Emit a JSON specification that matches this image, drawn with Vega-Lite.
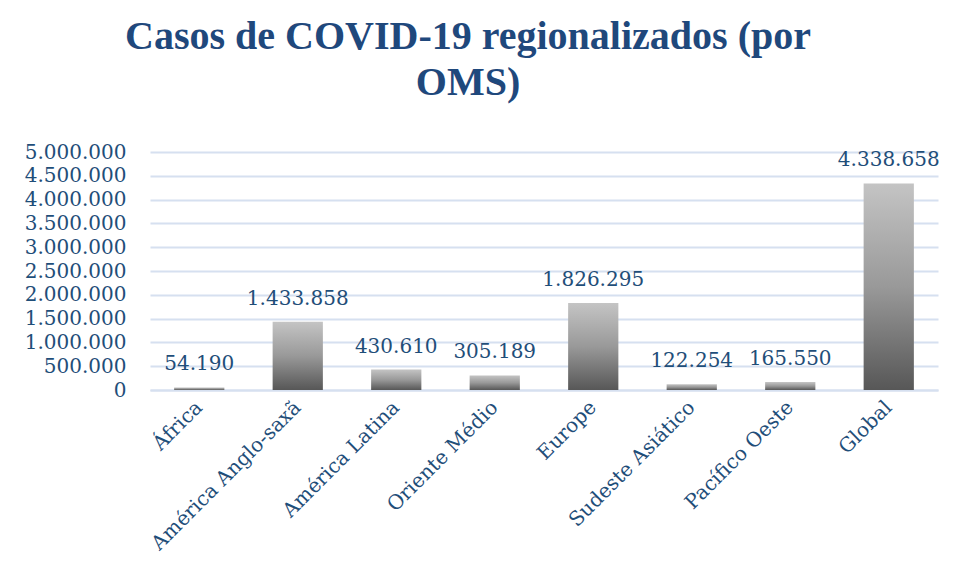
{
  "$schema": "https://vega.github.io/schema/vega-lite/v6.json",
  "autosize": "none",
  "width": 788,
  "height": 238,
  "padding": {"left": 150, "top": 152, "right": 20, "bottom": 190},
  "background": "white",
  "config": {
    "locale": {"number": {"decimal": ",", "thousands": ".", "grouping": [3], "currency": ["R$", ""]}},
    "view": {"stroke": null},
    "font": "DejaVu Serif"
  },
  "title": {
    "text": ["Casos de COVID-19 regionalizados (por", "OMS)"],
    "font": "Liberation Serif",
    "fontWeight": "bold",
    "fontSize": 40,
    "lineHeight": 46,
    "color": "#1F487C",
    "anchor": "middle",
    "frame": "group",
    "dx": -76,
    "offset": 39
  },
  "data": {
    "values": [
      {"regiao": "África", "casos": 54190},
      {"regiao": "América Anglo-saxã", "casos": 1433858},
      {"regiao": "América Latina", "casos": 430610},
      {"regiao": "Oriente Médio", "casos": 305189},
      {"regiao": "Europe", "casos": 1826295},
      {"regiao": "Sudeste Asiático", "casos": 122254},
      {"regiao": "Pacífico Oeste", "casos": 165550},
      {"regiao": "Global", "casos": 4338658}
    ]
  },
  "encoding": {
    "x": {
      "field": "regiao",
      "type": "nominal",
      "sort": null,
      "scale": {"paddingInner": 0.49, "paddingOuter": 0.245},
      "axis": {
        "title": null,
        "labelAngle": -45,
        "labelAlign": "right",
        "labelBaseline": "middle",
        "labelFont": "DejaVu Serif",
        "labelFontSize": 20,
        "labelColor": "#1F4E79",
        "labelPadding": 14,
        "labelLimit": 400,
        "ticks": false,
        "domainColor": "#D6E0F0",
        "domainWidth": 2,
        "labelOverlap": false
      }
    },
    "y": {
      "field": "casos",
      "type": "quantitative",
      "scale": {"domain": [0, 5000000]},
      "axis": {
        "title": null,
        "values": [0, 500000, 1000000, 1500000, 2000000, 2500000, 3000000, 3500000, 4000000, 4500000, 5000000],
        "format": ",d",
        "labelFont": "DejaVu Serif",
        "labelFontSize": 20,
        "labelColor": "#1F4E79",
        "labelPadding": 24,
        "ticks": false,
        "domain": false,
        "gridColor": "#D6E0F0",
        "gridWidth": 2,
        "labelOverlap": false
      }
    }
  },
  "layer": [
    {
      "mark": {
        "type": "bar",
        "color": {
          "gradient": "linear",
          "x1": 0, "y1": 0, "x2": 0, "y2": 1,
          "stops": [
            {"offset": 0, "color": "#C4C4C4"},
            {"offset": 0.5, "color": "#999999"},
            {"offset": 1, "color": "#575757"}
          ]
        }
      }
    },
    {
      "mark": {"type": "text", "baseline": "alphabetic", "dy": -17, "font": "DejaVu Serif", "fontSize": 20, "color": "#1F4E79"},
      "encoding": {"text": {"field": "casos", "type": "quantitative", "format": ",d"}}
    }
  ]
}
